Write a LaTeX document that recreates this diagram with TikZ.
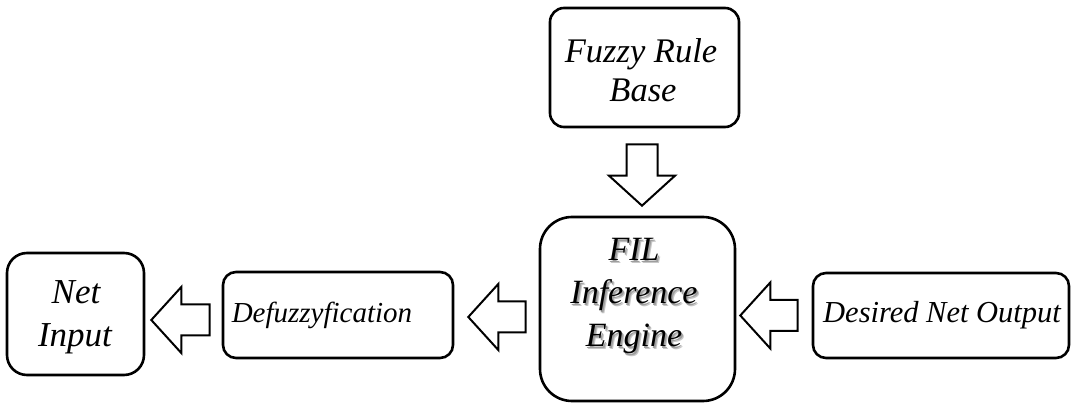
\documentclass[tikz,border=0pt]{standalone}
\usepackage{fontspec}
\setmainfont{Liberation Serif}
\usetikzlibrary{calc}

\tikzset{
  box/.style={draw=black, line width=2.6pt, rounded corners=#1, inner sep=0pt, fill=white},
  box/.default=14pt,
  lbl/.style={anchor=base, inner sep=0pt, font=\fontsize{#1}{36}\selectfont\itshape},
  lbl/.default=30.5,
  fatarrowline/.style={draw=black, line width=2pt, fill=white, line join=miter},
}

% text with a soft grey drop shadow
\newcommand\softshadow[1]{\leavevmode
  \rlap{\kern2.5pt\raisebox{-2.5pt}{\textcolor{black!22}{#1}}}%
  \rlap{\kern1.5pt\raisebox{-1.5pt}{\textcolor{black!38}{#1}}}%
  #1}

% hollow block arrow from shaft end #1 to tip #2
\newcommand\fatarrow[2]{%
  \coordinate (fa-h) at ($(#2)!30pt!(#1)$);
  \draw[fatarrowline]
    ($(#1)!15.5pt!90:(#2)$) -- ($(fa-h)!15.5pt!-90:(#1)$) --
    ($(fa-h)!33pt!-90:(#1)$) -- (#2) -- ($(fa-h)!33pt!90:(#1)$) --
    ($(fa-h)!15.5pt!90:(#1)$) -- ($(#1)!15.5pt!-90:(#2)$) -- cycle;}

\begin{document}
\begin{tikzpicture}[x=1pt, y=-1pt]
\useasboundingbox (0,0) rectangle (1072,403);

% boxes
\node[box=14pt, minimum width=189pt, minimum height=119pt] (fuzzy) at (644.5,67.5) {};
\node[box=32pt, minimum width=195pt, minimum height=184pt] (fil) at (637.5,309) {};
\node[box=20pt, minimum width=137pt, minimum height=122pt] (netin) at (75.5,314) {};
\node[box=13pt, minimum width=230pt, minimum height=86pt] (defuzz) at (338,315) {};
\node[box=13pt, minimum width=256pt, minimum height=85pt] (desired) at (941,315.5) {};

% labels
\node[lbl=34.5] (fuzzy-1) at (641,62.5) {Fuzzy Rule};
\node[lbl=34.5] (fuzzy-2) at (643,102) {Base};
\node[lbl=35] (netin-1) at (76,303.5) {Net};
\node[lbl=35] (netin-2) at (75,347) {Input};
\node[lbl=29] (defuzz-t) at (322,322.5) {Defuzzyfication};
\node[lbl, anchor=base west] (desired-t) at (823,323) {Desired Net Output};

% engine label with soft shadow
\node[lbl=34] (fil-1) at (634,261) {\softshadow{FIL}};
\node[lbl=34] (fil-2) at (634,304) {\softshadow{Inference}};
\node[lbl=34] (fil-3) at (634,347) {\softshadow{Engine}};

% block arrows
\coordinate (a1s) at ($(defuzz.west)+(-12,5)$);
\coordinate (a1t) at ($(netin.east |- a1s)+(6,0)$);
\fatarrow{a1s}{a1t}
\coordinate (a2s) at ($(fil.west)+(-13,8)$);
\coordinate (a2t) at ($(defuzz.east |- a2s)+(14,0)$);
\fatarrow{a2s}{a2t}
\coordinate (a3s) at ($(desired.west)+(-14,0)$);
\coordinate (a3t) at ($(fil.east |- a3s)+(4,0)$);
\fatarrow{a3s}{a3t}
\coordinate (a4s) at ($(fuzzy.south)+(-2.5,16)$);
\coordinate (a4t) at ($(a4s |- fil.north)+(0,-10)$);
\fatarrow{a4s}{a4t}
\end{tikzpicture}
\end{document}
